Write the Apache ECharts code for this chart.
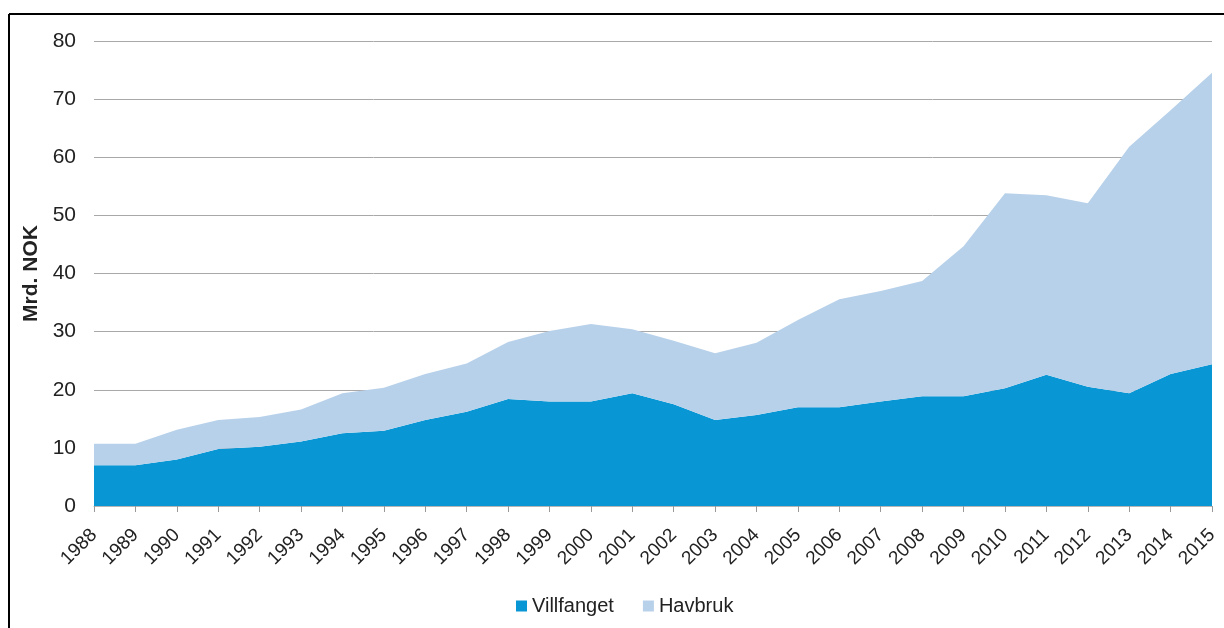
<!DOCTYPE html>
<html>
<head>
<meta charset="utf-8">
<script src="https://cdn.jsdelivr.net/npm/echarts@6/dist/echarts.min.js"></script>
<style>
  html, body { margin: 0; padding: 0; background: #fff; }
  #chart { width: 1224px; height: 628px; }
</style>
</head>
<body>
<div id="chart"></div>
<script>
// Years on the category axis
const years = ['1988','1989','1990','1991','1992','1993','1994','1995','1996','1997',
  '1998','1999','2000','2001','2002','2003','2004','2005','2006','2007',
  '2008','2009','2010','2011','2012','2013','2014','2015'];

// Wild-caught fish value, Mrd. NOK
const villfanget = [7.0, 7.0, 8.0, 9.8, 10.2, 11.1, 12.5, 12.95, 14.8, 16.2,
  18.4, 18.0, 18.0, 19.4, 17.5, 14.8, 15.65, 17.0, 17.0, 18.0,
  18.9, 18.9, 20.25, 22.6, 20.5, 19.4, 22.7, 24.4];

// Aquaculture value, stacked on top, Mrd. NOK
const havbruk = [3.7, 3.7, 5.1, 5.0, 5.1, 5.5, 6.9, 7.4, 7.9, 8.3,
  9.8, 12.1, 13.3, 11.0, 10.95, 11.5, 12.45, 15.0, 18.55, 19.0,
  19.8, 25.8, 33.55, 30.85, 31.6, 42.4, 45.4, 50.15];

const yTicks = [0, 10, 20, 30, 40, 50, 60, 70, 80];

const chart = echarts.init(document.getElementById('chart'));
const fontFamily = '"Liberation Sans", Arial, sans-serif';

chart.setOption({
  animation: false,
  textStyle: { fontFamily: fontFamily },
  graphic: [
    // frame lines along the top and left edge
    { type: 'line', shape: { x1: 9, y1: 14, x2: 1224, y2: 14 }, style: { stroke: '#000', lineWidth: 2 } },
    { type: 'line', shape: { x1: 9, y1: 14, x2: 9, y2: 628 }, style: { stroke: '#000', lineWidth: 2 } }
  ],
  grid: { left: 94, right: 12, top: 41, bottom: 122, containLabel: false },
  legend: {
    top: 596,
    left: 516,
    padding: 0,
    icon: 'rect',
    itemWidth: 11,
    itemHeight: 11,
    itemGap: 29,
    textStyle: { fontSize: 20, color: '#222', fontFamily: fontFamily },
    data: ['Villfanget', 'Havbruk']
  },
  xAxis: {
    type: 'category',
    data: years,
    boundaryGap: false,
    axisLine: { lineStyle: { color: '#b5b5b5', width: 1 } },
    axisTick: { show: true, length: 6, lineStyle: { color: '#999' } },
    axisLabel: { rotate: 45, margin: 26, fontSize: 19, color: '#222', interval: 0 }
  },
  yAxis: {
    type: 'value',
    min: yTicks[0],
    max: yTicks[yTicks.length - 1],
    interval: 10,
    name: 'Mrd. NOK',
    nameLocation: 'middle',
    nameGap: 48,
    nameTextStyle: { fontSize: 21, fontWeight: 'bold', color: '#222' },
    axisLine: { show: false },
    axisTick: { show: false },
    axisLabel: { fontSize: 21, color: '#222', margin: 18 },
    splitLine: { lineStyle: { color: '#a8a8a8', width: 1 } }
  },
  series: [
    {
      name: 'Villfanget',
      type: 'line',
      stack: 'total',
      data: villfanget,
      symbol: 'none',
      lineStyle: { width: 0 },
      itemStyle: { color: '#0896d5' },
      areaStyle: { color: '#0896d5', opacity: 1 }
    },
    {
      name: 'Havbruk',
      type: 'line',
      stack: 'total',
      data: havbruk,
      symbol: 'none',
      lineStyle: { width: 0 },
      itemStyle: { color: '#b8d1ea' },
      areaStyle: { color: '#b8d1ea', opacity: 1 }
    }
  ]
});
</script>
</body>
</html>
